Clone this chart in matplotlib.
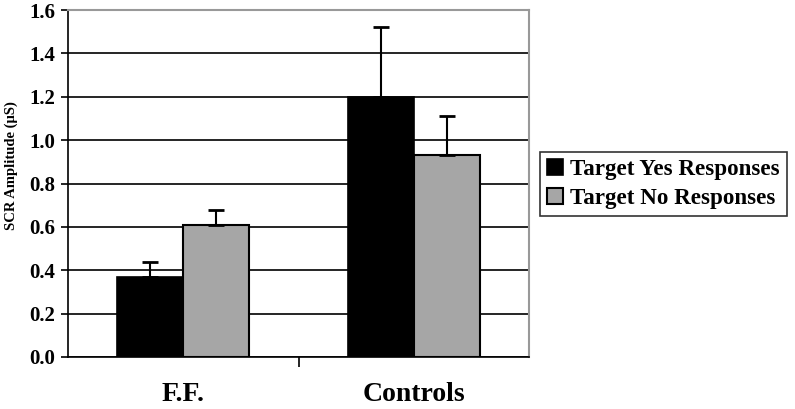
import matplotlib.pyplot as plt
import numpy as np

plt.rcParams['font.family'] = ['Liberation Serif', 'DejaVu Serif']
plt.rcParams['font.weight'] = 'bold'

groups = ['F.F.', 'Controls']
series = ['Target Yes Responses', 'Target No Responses']
yes_vals = [0.37, 1.20]
yes_err = [0.07, 0.32]
no_vals = [0.61, 0.93]
no_err = [0.07, 0.18]
yticks = [0.0, 0.2, 0.4, 0.6, 0.8, 1.0, 1.2, 1.4, 1.6]

fig = plt.figure(figsize=(7.95, 4.09), dpi=100)
ax = fig.add_axes([68 / 795, 1 - 357 / 409, 461 / 795, 347 / 409])

x = np.arange(len(groups))
w = 0.286
ax.set_axisbelow(True)
ax.yaxis.grid(True, color='black', linewidth=1.2)

ax.bar(x - w / 2, yes_vals, w, color='black', edgecolor='black', linewidth=1.2,
       label=series[0], zorder=2)
ax.bar(x + w / 2, no_vals, w, color='#a6a6a6', edgecolor='black', linewidth=1.5,
       label=series[1], zorder=2)
ax.errorbar(x - w / 2, yes_vals, yerr=[np.zeros(2), yes_err], fmt='none',
            ecolor='black', elinewidth=1.5, capsize=6, capthick=2, zorder=3)
ax.errorbar(x + w / 2, no_vals, yerr=[np.zeros(2), no_err], fmt='none',
            ecolor='black', elinewidth=1.5, capsize=6, capthick=2, zorder=3)

ax.set_xlim(-0.5, 1.5)
ax.set_ylim(0, 1.6)
ax.set_yticks(yticks)
ax.set_yticklabels([f'{t:.1f}' for t in yticks], fontsize=15, fontweight='bold')
ax.set_xticks([0.5])
ax.set_xticklabels([''])
ax.tick_params(axis='x', length=7, width=1.2, direction='out')
ax.tick_params(axis='y', length=5, width=1.2, direction='out', pad=4)
for g, xi in zip(groups, x):
    ax.text(xi, -0.205, g, ha='center', va='baseline', fontsize=20,
            fontweight='bold')

ax.set_ylabel('SCR Amplitude (μS)', fontsize=10.5, fontweight='bold')
ax.yaxis.set_label_coords(-0.108, 0.553)

for s in ['top', 'right']:
    ax.spines[s].set_color('#999999')
    ax.spines[s].set_linewidth(1.5)
for s in ['left', 'bottom']:
    ax.spines[s].set_color('black')
    ax.spines[s].set_linewidth(1.2)

leg = fig.legend(loc='upper left', bbox_to_anchor=(540 / 795, 1 - 152 / 409),
                 frameon=True, fancybox=False, edgecolor='black',
                 prop={'size': 16.6, 'weight': 'bold'}, handlelength=0.7,
                 handleheight=0.7, handletextpad=0.3, borderpad=0.3,
                 labelspacing=0.35, borderaxespad=0)
leg.get_frame().set_linewidth(1.2)

fig.savefig('out.png', dpi=100)
